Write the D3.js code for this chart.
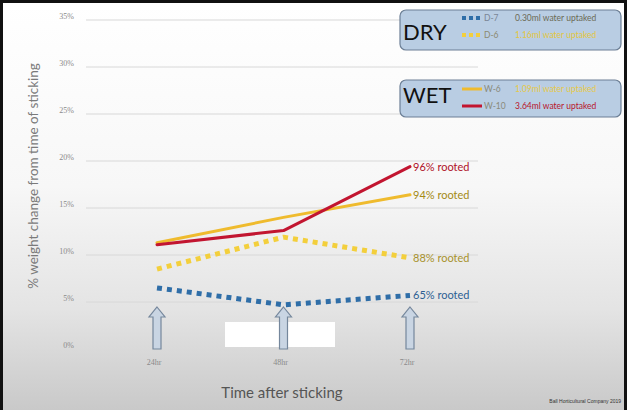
<html>
<head>
<meta http-equiv="Content-Type" content="text/html;charset=utf-8"/>
<script type="text/javascript" src="https://d3js.org/d3.v7.min.js"></script>
<style type="text/css">
  body { margin: 0; padding: 0; }
  svg { display: block; }
  .tick-lbl { font-family: "Liberation Serif", serif; font-size: 8px; fill: #8a8a8a; }
  .grid { stroke: #d8d8d8; stroke-width: 1; }
  .rooted { font-family: "Lato", "Noto Sans", sans-serif; font-size: 11px; }
  .leg-big { font-family: "Lato", "Noto Sans", sans-serif; font-size: 22px; fill: #111; }
  .leg-txt { font-family: "Lato", "Noto Sans", sans-serif; font-size: 8.5px; }
</style>
</head>
<body>
<script type="text/javascript">

// chart values
var times = ["24hr", "48hr", "72hr"];
var yTicks = [0, 5, 10, 15, 20, 25, 30, 35];
var dry7 = [6.5, 4.7, 5.7];
var dry6 = [8.5, 11.9, 9.7];
var wet6 = [11.3, 14.0, 16.4];
var wet10 = [11.1, 12.6, 19.4];
var rootedText = ["96% rooted", "94% rooted", "88% rooted", "65% rooted"];
var dryNames = ["D-7", "D-6"];
var dryUptake = ["0.30ml water uptaked", "1.16ml water uptaked"];
var wetNames = ["W-6", "W-10"];
var wetUptake = ["1.09ml water uptaked", "3.64ml water uptaked"];

var w = 627, h = 410;

var svg = d3.select("body").append("svg")
    .attr("width", w)
    .attr("height", h);

var defs = svg.append("defs");
var grad = defs.append("linearGradient")
    .attr("id", "bg").attr("x1", 0).attr("y1", 0).attr("x2", 0).attr("y2", 1);
grad.append("stop").attr("offset", "0%").attr("stop-color", "#ffffff");
grad.append("stop").attr("offset", "45%").attr("stop-color", "#f7f7f7");
grad.append("stop").attr("offset", "75%").attr("stop-color", "#e4e4e4");
grad.append("stop").attr("offset", "100%").attr("stop-color", "#c9c9c9");

// black frame then slide
svg.append("rect").attr("width", w).attr("height", h).attr("fill", "#111");
svg.append("rect").attr("x", 3).attr("y", 3).attr("width", w - 6).attr("height", h - 3)
    .attr("fill", "url(#bg)");

var x = d3.scalePoint().domain(times).range([157, 410]);
var y = d3.scaleLinear().domain([0, 35]).range([349, 20]);

// gridlines and y labels
svg.selectAll("line.grid")
    .data(yTicks.filter(function(d) { return d > 0; }))
  .enter().append("line")
    .attr("class", "grid")
    .attr("x1", 86).attr("x2", 478)
    .attr("y1", function(d) { return y(d); })
    .attr("y2", function(d) { return y(d); });

svg.selectAll("text.ylbl")
    .data(yTicks)
  .enter().append("text")
    .attr("class", "tick-lbl ylbl")
    .attr("x", 74)
    .attr("y", function(d) { return y(d) - 1; })
    .attr("text-anchor", "end")
    .text(function(d) { return d + "%"; });

// y title
svg.append("text")
    .attr("transform", "translate(38,176) rotate(-90)")
    .attr("text-anchor", "middle")
    .style("font-family", "Lato, 'Noto Sans', sans-serif")
    .style("font-size", "13.5px")
    .style("fill", "#7a7a7a")
    .text("% weight change from time of sticking");

// white box in the middle
svg.append("rect")
    .attr("x", 225).attr("y", 322).attr("width", 110).attr("height", 25)
    .attr("fill", "#ffffff");

// arrows
var arrowPath = "M0,0 L8,10 L4,10 L4,42 L-4,42 L-4,10 L-8,10 Z";
svg.selectAll("path.arrow")
    .data(times)
  .enter().append("path")
    .attr("class", "arrow")
    .attr("d", arrowPath)
    .attr("transform", function(d) { return "translate(" + x(d) + ",307)"; })
    .attr("fill", "#c9d5e3")
    .attr("stroke", "#75879c")
    .attr("stroke-width", 1.2);

// x labels
svg.selectAll("text.xlbl")
    .data(times)
  .enter().append("text")
    .attr("class", "tick-lbl xlbl")
    .attr("x", function(d) { return x(d) - 3; })
    .attr("y", 365)
    .attr("text-anchor", "middle")
    .text(function(d) { return d; });

svg.append("text")
    .attr("x", 282).attr("y", 398)
    .attr("text-anchor", "middle")
    .style("font-family", "Lato, 'Noto Sans', sans-serif")
    .style("font-size", "15px")
    .style("fill", "#555")
    .text("Time after sticking");

svg.append("text")
    .attr("x", 621).attr("y", 403)
    .attr("text-anchor", "end")
    .style("font-family", "'Liberation Sans', sans-serif")
    .style("font-size", "5px")
    .style("fill", "#333")
    .text("Ball Horticultural Company 2019");

// series lines
var line = d3.line()
    .x(function(d, i) { return x(times[i]); })
    .y(function(d) { return y(d); });

var series = [
  { values: dry6, color: "#f3cf3c", width: 5, dash: "5,5", cap: "butt" },
  { values: dry7, color: "#2f6ea8", width: 5, dash: "5,5", cap: "butt" },
  { values: wet6, color: "#efbb2e", width: 3, dash: null, cap: "round" },
  { values: wet10, color: "#c21530", width: 3, dash: null, cap: "round" }
];

svg.selectAll("path.series")
    .data(series)
  .enter().append("path")
    .attr("class", "series")
    .attr("d", function(d) { return line(d.values); })
    .attr("fill", "none")
    .attr("stroke", function(d) { return d.color; })
    .attr("stroke-width", function(d) { return d.width; })
    .attr("stroke-dasharray", function(d) { return d.dash; })
    .attr("stroke-linecap", function(d) { return d.cap; })
    .attr("stroke-linejoin", "round");

// rooted labels at the last point
var lastVals = [wet10[2], wet6[2], dry6[2], dry7[2]];
var rootColors = ["#b01228", "#a48a14", "#a8922c", "#2d5f93"];
svg.selectAll("text.rooted")
    .data(rootedText)
  .enter().append("text")
    .attr("class", "rooted")
    .attr("x", 413)
    .attr("y", function(d, i) { return y(lastVals[i]) + 4; })
    .style("fill", function(d, i) { return rootColors[i]; })
    .text(function(d) { return d; });

// legends
function legendBox(y0, height, baseline, rowY, title, names, uptake, styles) {
  var g = svg.append("g");
  g.append("rect")
    .attr("x", 400).attr("y", y0).attr("width", 221).attr("height", height)
    .attr("rx", 6).attr("ry", 6)
    .attr("fill", "#b9cde3")
    .attr("stroke", "#6c7f96")
    .attr("stroke-width", 1.2);
  g.append("text")
    .attr("class", "leg-big")
    .attr("x", 403).attr("y", baseline)
    .text(title);
  names.forEach(function(n, i) {
    var ly = rowY[i];
    var s = styles[i];
    g.append("line")
      .attr("x1", 462).attr("x2", 482)
      .attr("y1", ly).attr("y2", ly)
      .attr("stroke", s.color)
      .attr("stroke-width", s.width)
      .attr("stroke-dasharray", s.dash);
    g.append("text")
      .attr("class", "leg-txt")
      .attr("x", 484).attr("y", ly + 3)
      .style("fill", s.nameColor)
      .text(n);
    g.append("text")
      .attr("class", "leg-txt")
      .attr("x", 515).attr("y", ly + 3)
      .style("fill", s.textColor)
      .text(uptake[i]);
  });
}

legendBox(10, 40, 40, [18, 35], "DRY", dryNames, dryUptake, [
  { color: "#2f6ea8", width: 4, dash: "4,3", nameColor: "#7a8596", textColor: "#6b6a55" },
  { color: "#f3cf3c", width: 4, dash: "4,3", nameColor: "#8c8a70", textColor: "#e3c640" }
]);
legendBox(80, 37, 103, [89, 106], "WET", wetNames, wetUptake, [
  { color: "#efbb2e", width: 3, dash: null, nameColor: "#8a8a7a", textColor: "#e6c94a" },
  { color: "#c21530", width: 3, dash: null, nameColor: "#8a8a7a", textColor: "#b8142c" }
]);

</script>
</body>
</html>
